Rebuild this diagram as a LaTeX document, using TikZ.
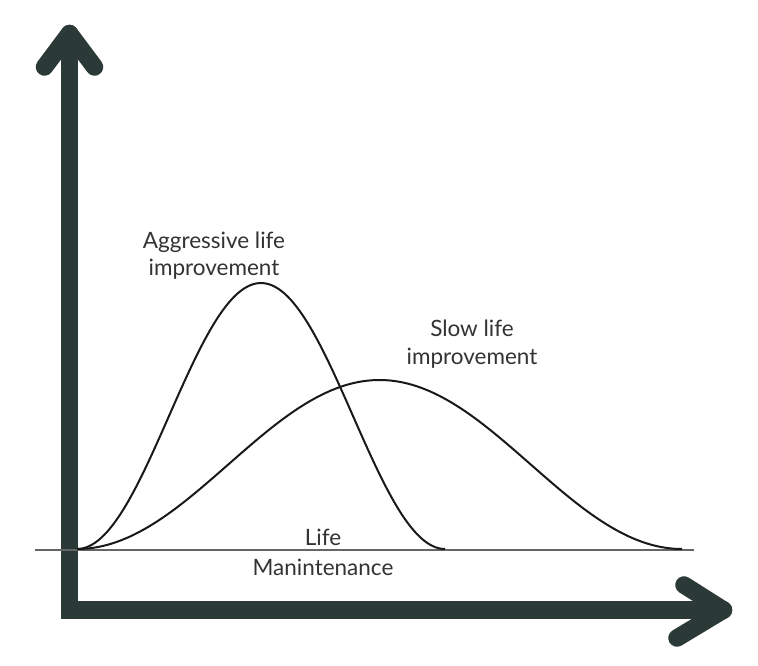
\documentclass[tikz,border=0pt]{standalone}
\usepackage{fontspec}
\setmainfont{Lato}
\definecolor{axiscol}{HTML}{2B3A37}
\definecolor{txtcol}{HTML}{333333}
\begin{document}
\begin{tikzpicture}[x=1pt,y=-1pt,
  axisline/.style={draw=axiscol,line width=17.5pt,line cap=round,line join=round},
  curveline/.style={draw=black!90,line width=2pt},
  baseline/.style={draw=black!60,line width=1.2pt},
  lbl/.style={text=txtcol,font=\fontsize{22.5}{27}\selectfont,anchor=base,inner sep=0pt}]
\useasboundingbox (0,0) rectangle (758,666);
% axes
\coordinate (o) at (69.5,610);
\coordinate (ytip) at (69.5,33.5);
\coordinate (xtip) at (723.5,610);
\coordinate (yl) at (44.5,67);
\coordinate (yr) at (94.5,67);
\coordinate (xu) at (684,585);
\coordinate (xd) at (677,638);
\draw[axisline,line join=miter] (ytip) -- (o) -- (xtip);
\draw[axisline] (yl) -- (ytip) -- (yr);
\draw[axisline] (xu) -- (xtip) -- (xd);
% baseline
\coordinate (bl) at (35,550);
\coordinate (br) at (694,550);
\draw[baseline] (bl) -- (br);
% curves
\draw[curveline,domain=77:445,samples=120,smooth,variable=\t]
  plot (\t,{549-133*(1+cos((\t-261)/184*180))});
\draw[curveline,domain=77:682,samples=160,smooth,variable=\t]
  plot (\t,{549-84.5*(1+cos((\t-379.5)/302.5*180))});
% labels
\node[lbl] (a1) at (214,248) {Aggressive life};
\node[lbl] (a2) at (214,275) {improvement};
\node[lbl] (s1) at (472,336) {Slow life};
\node[lbl] (s2) at (472,364) {improvement};
\node[lbl] (m1) at (323,545) {Life};
\node[lbl] (m2) at (323,575) {Manintenance};
\end{tikzpicture}
\end{document}
